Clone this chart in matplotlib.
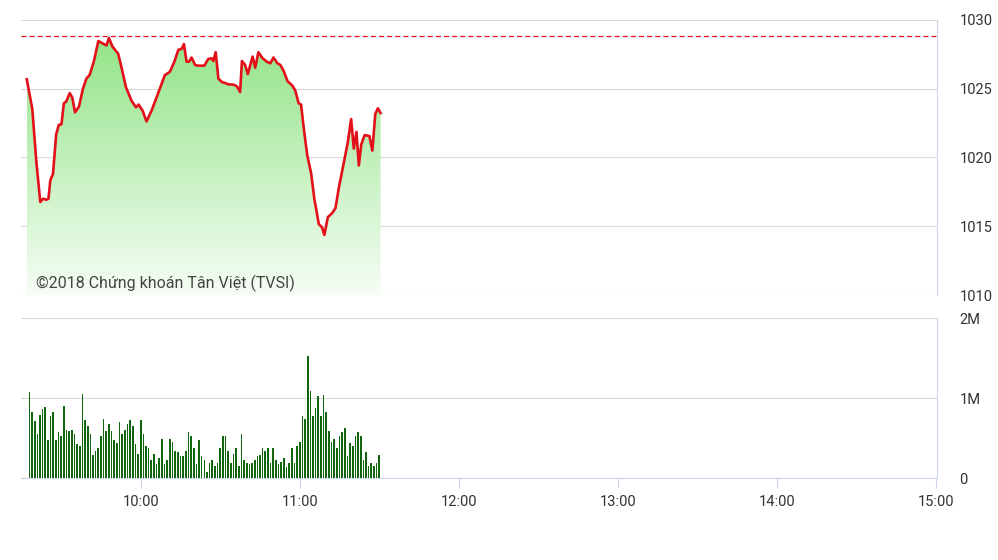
"""
VN-Index trong phiên sáng: đường giá + khối lượng theo phút
"""

import numpy as np
import matplotlib.pyplot as plt
from matplotlib.ticker import FixedLocator, FuncFormatter

# ====== 字体 ======
plt.rcParams['font.family'] = ['Roboto', 'DejaVu Sans']

# ====== 数据 ======
# thời gian = số phút tính từ 09:00
price_min = [17.0, 19.1, 20.6, 22.1, 23.1, 24.4, 25.2, 25.9, 26.9, 28.1, 29.1, 30.1,
             31.0, 31.9, 33.2, 34.2, 35.2, 36.7, 38.2, 39.5, 40.7, 42.3, 44.0, 45.8,
             47.1, 48.0, 49.3, 51.5, 52.7, 54.4, 56.5, 58.2, 59.2, 60.7, 62.2, 64.1,
             67.2, 69.1, 71.0, 72.7, 74.2, 75.5, 76.3, 77.3, 78.2, 79.2, 80.5, 81.7,
             84.0, 85.5, 86.8, 87.4, 88.3, 89.3, 90.6, 91.8, 93.1, 95.0, 96.3, 97.5,
             98.2, 99.4, 100.4, 102.2, 103.2, 104.4, 106.0, 107.6, 108.9, 110.1, 111.6, 112.7,
             113.9, 115.4, 117.1, 118.3, 119.6, 120.5, 121.5, 122.8, 124.3, 125.5, 127.2, 128.4,
             129.3, 130.6, 132.2, 133.5, 134.7, 136.6, 138.1, 139.4, 140.4, 141.4, 142.3, 143.2,
             144.5, 146.3, 147.4, 148.5, 149.5, 150.5]
price_val = [1025.69, 1023.52, 1019.72, 1016.76, 1017.00, 1016.93, 1017.00, 1018.36, 1018.80, 1021.68,
             1022.37, 1022.42, 1023.94, 1024.07, 1024.68, 1024.34, 1023.28, 1023.70, 1025.00, 1025.74,
             1025.99, 1026.97, 1028.47, 1028.28, 1028.15, 1028.69, 1028.08, 1027.54, 1026.60, 1025.13,
             1024.14, 1023.65, 1023.85, 1023.41, 1022.62, 1023.41, 1025.00, 1025.99, 1026.23, 1026.97,
             1027.83, 1027.91, 1028.25, 1026.97, 1026.97, 1027.27, 1026.73, 1026.68, 1026.68, 1027.17,
             1027.21, 1027.02, 1027.66, 1025.74, 1025.49, 1025.42, 1025.32, 1025.30, 1025.18, 1024.76,
             1027.02, 1026.73, 1026.06, 1027.34, 1026.53, 1027.66, 1027.21, 1026.97, 1026.85, 1027.27,
             1026.85, 1026.73, 1026.31, 1025.55, 1025.25, 1024.88, 1023.94, 1023.85, 1022.17, 1020.20,
             1018.85, 1017.00, 1015.16, 1014.92, 1014.37, 1015.66, 1015.95, 1016.32, 1017.75, 1019.59,
             1021.07, 1022.79, 1020.65, 1021.86, 1019.42, 1020.94, 1021.63, 1021.56, 1020.50, 1023.16,
             1023.58, 1023.23]
ref_close = 1028.8

# khối lượng mỗi phút (triệu CP), bắt đầu 09:18
vol_start = 18
volume_m = [1.07, 0.83, 0.71, 0.55, 0.79, 0.86, 0.89, 0.48, 0.78, 0.83, 0.48, 0.57, 0.53, 0.90,
            0.60, 0.59, 0.60, 0.55, 0.42, 0.40, 1.05, 0.72, 0.65, 0.55, 0.29, 0.34, 0.38, 0.52,
            0.74, 0.59, 0.68, 0.59, 0.48, 0.44, 0.70, 0.55, 0.60, 0.67, 0.72, 0.65, 0.42, 0.30,
            0.72,
            0.55, 0.40, 0.37, 0.23, 0.30, 0.18, 0.25, 0.49, 0.18, 0.23, 0.49, 0.45, 0.34, 0.33,
            0.27, 0.27, 0.34, 0.57, 0.53, 0.38, 0.18, 0.48, 0.27, 0.23, 0.08, 0.19, 0.23, 0.15,
            0.19, 0.37, 0.53, 0.52, 0.34, 0.19, 0.30, 0.38, 0.15, 0.55, 0.22, 0.19, 0.18, 0.19,
            0.22, 0.28, 0.29, 0.37, 0.34,
            0.37, 0.19, 0.37, 0.23, 0.18, 0.20, 0.25, 0.14, 0.19, 0.37, 0.19, 0.40, 0.45, 0.78,
            0.74, 1.53, 1.09, 0.78, 0.88, 1.02, 0.78, 1.04, 0.83, 0.59, 0.45, 0.49, 0.38, 0.52,
            0.57, 0.63, 0.27, 0.44, 0.40, 0.52, 0.57, 0.53, 0.22, 0.33, 0.15, 0.19, 0.15, 0.19,
            0.29]

hour_ticks = [60, 120, 180, 240, 300, 360]
hour_labels = ['10:00', '11:00', '12:00', '13:00', '14:00', '15:00']
price_ticks = [1010, 1015, 1020, 1025, 1030]

# ====== 画布 ======
fig = plt.figure(figsize=(9.98, 5.6), dpi=100)
ax = fig.add_axes([0.0215, 0.4732, 0.9175, 0.4911])
ax_v = fig.add_axes([0.0215, 0.1464, 0.9175, 0.2857])

grid_c = '#d9d9d9'
axis_c = '#ccd6eb'
text_c = '#333333'

# ====== 价格图 ======
ax.set_xlim(15, 360.5)
ax.set_ylim(1010, 1030)

# vùng tô gradient dưới đường giá
area = ax.fill_between(price_min, price_val, 1010, color='none', lw=0)
top_rgb = np.array([140, 226, 128]) / 255
bot_rgb = np.array([246, 253, 245]) / 255
k = np.linspace(0, 1, 256)[:, None]
grad = (top_rgb * (1 - k) + bot_rgb * k)[:, None, :]
im = ax.imshow(grad, extent=[price_min[0], price_min[-1], 1010, 1030],
               aspect='auto', origin='upper', zorder=1)
im.set_clip_path(area.get_paths()[0], transform=ax.transData)

ax.plot(price_min, price_val, color='#e3101a', lw=1.9, zorder=3, solid_joinstyle='round')
ax.axhline(ref_close, color='#e3101a', lw=0.9, ls=(0, (4, 2.5)), zorder=2)

ax.yaxis.tick_right()
ax.yaxis.set_major_locator(FixedLocator(price_ticks))
ax.tick_params(axis='y', length=0, pad=16, labelsize=10.5, labelcolor=text_c)
ax.tick_params(axis='x', bottom=False, labelbottom=False)
ax.grid(axis='y', color=grid_c, lw=0.8)
ax.set_axisbelow(True)
for s in ['left', 'top', 'bottom']:
    ax.spines[s].set_visible(False)
ax.spines['right'].set_color(axis_c)
ax.spines['right'].set_linewidth(0.8)

ax.text(0.016, 0.044, '©2018 Chứng khoán Tân Việt (TVSI)', transform=ax.transAxes,
        fontsize=11.5, color='#444444', va='center', ha='left', zorder=4)

# ====== 成交量图 ======
vol_min = np.arange(vol_start, vol_start + len(volume_m))
ax_v.bar(vol_min, np.array(volume_m) * 1e6, width=0.62, color='#11650f',
         lw=0, antialiased=False, zorder=2)
ax_v.set_xlim(15, 360.5)
ax_v.set_ylim(0, 2e6)

ax_v.yaxis.tick_right()
ax_v.yaxis.set_major_locator(FixedLocator([0, 1e6, 2e6]))
ax_v.yaxis.set_major_formatter(FuncFormatter(lambda v, p: '0' if v == 0 else f'{int(v / 1e6)}M'))
ax_v.tick_params(axis='y', length=0, pad=16, labelsize=10.5, labelcolor=text_c)
ax_v.grid(axis='y', color=grid_c, lw=0.8)
ax_v.set_axisbelow(True)

ax_v.set_xticks(hour_ticks)
ax_v.set_xticklabels(hour_labels)
ax_v.tick_params(axis='x', length=7, width=0.8, color=axis_c, pad=5,
                 labelsize=10.5, labelcolor=text_c)

for s in ['left', 'top']:
    ax_v.spines[s].set_visible(False)
for s in ['right', 'bottom']:
    ax_v.spines[s].set_color(axis_c)
    ax_v.spines[s].set_linewidth(0.8)

# ====== 保存 ======
fig.savefig('out.png', dpi=100)
